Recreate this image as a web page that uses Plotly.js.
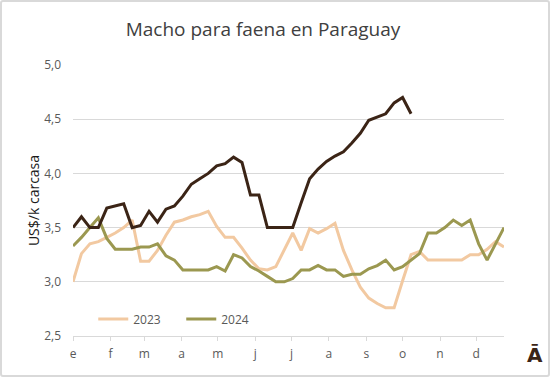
<!DOCTYPE html>
<html>
<head>
<meta charset="utf-8">
<script src="https://cdn.plot.ly/plotly-3.0.1.min.js"></script>
<style>
  html, body { margin: 0; padding: 0; background: #fff; }
  #wrap { position: relative; width: 550px; height: 377px; }
  #chart { width: 550px; height: 377px; }
  #frame { position: absolute; left: 0; top: 0; width: 546px; height: 373px;
           border: 2px solid #d9d9d9; border-radius: 3px; pointer-events: none; }
</style>
</head>
<body>
<div id="wrap"><div id="chart"></div><div id="frame"></div></div>
<script>
// Weekly series (week 1 = first week of January)
const monthLabels = ["e", "f", "m", "a", "m", "j", "j", "a", "s", "o", "n", "d"];

const serie2025 = [3.50, 3.60, 3.50, 3.50, 3.68, 3.70, 3.72, 3.50, 3.52, 3.65,
                   3.55, 3.67, 3.70, 3.79, 3.90, 3.95, 4.00, 4.07, 4.09, 4.15,
                   4.10, 3.80, 3.80, 3.50, 3.50, 3.50, 3.50, 3.73, 3.95, 4.04,
                   4.11, 4.16, 4.20, 4.28, 4.37, 4.49, 4.52, 4.55, 4.65, 4.70,
                   4.55];

const serie2023 = [3.00, 3.26, 3.35, 3.37, 3.41, 3.45, 3.50, 3.57, 3.19, 3.19,
                   3.29, 3.43, 3.55, 3.57, 3.60, 3.62, 3.65, 3.51, 3.41, 3.41,
                   3.31, 3.20, 3.12, 3.11, 3.14, 3.29, 3.45, 3.29, 3.49, 3.45,
                   3.49, 3.54, 3.29, 3.11, 2.95, 2.85, 2.80, 2.76, 2.76, 3.01,
                   3.25, 3.28, 3.20, 3.20, 3.20, 3.20, 3.20, 3.25, 3.25, 3.30,
                   3.37, 3.32];

const serie2024 = [3.33, 3.41, 3.50, 3.59, 3.40, 3.30, 3.30, 3.30, 3.32, 3.32,
                   3.35, 3.24, 3.20, 3.11, 3.11, 3.11, 3.11, 3.14, 3.10, 3.25,
                   3.22, 3.14, 3.10, 3.05, 3.00, 3.00, 3.03, 3.11, 3.11, 3.15,
                   3.11, 3.11, 3.05, 3.07, 3.07, 3.12, 3.15, 3.20, 3.11, 3.14,
                   3.20, 3.26, 3.45, 3.45, 3.50, 3.57, 3.52, 3.57, 3.35, 3.20,
                   3.35, 3.50];

const yTicks = [2.5, 3.0, 3.5, 4.0, 4.5, 5.0];
const yTickText = ["2,5", "3,0", "3,5", "4,0", "4,5", "5,0"];

// x positions: weekly dates within a reference year
function weekDates(n) {
  const out = [];
  const start = Date.UTC(2023, 0, 1);
  for (let i = 0; i < n; i++) {
    const d = new Date(start + i * 7 * 86400000);
    out.push(d.toISOString().slice(0, 10));
  }
  return out;
}
const monthStarts = monthLabels.map((_, i) =>
  "2023-" + String(i + 1).padStart(2, "0") + "-01");

const COL25 = "#3b2416";
const COL23 = "#f2c9a1";
const COL24 = "#9b9850";

const traces = [
  { x: weekDates(serie2023.length), y: serie2023, name: "2023", type: "scatter", mode: "lines",
    line: { color: COL23, width: 3 } },
  { x: weekDates(serie2024.length), y: serie2024, name: "2024", type: "scatter", mode: "lines",
    line: { color: COL24, width: 3 } },
  { x: weekDates(serie2025.length), y: serie2025, name: "2025", type: "scatter", mode: "lines",
    line: { color: COL25, width: 3 }, showlegend: false }
];

const FONT = "Open Sans, Noto Sans, sans-serif";

const layout = {
  width: 550, height: 377,
  margin: { l: 73, r: 46, t: 65, b: 41 },
  paper_bgcolor: "#ffffff", plot_bgcolor: "#ffffff",
  title: { text: "Macho para faena en Paraguay", xref: "container", x: 263 / 550, xanchor: "center",
           y: 1 - 29 / 377, yanchor: "middle",
           font: { family: FONT, size: 19, color: "#404040" } },
  showlegend: true,
  legend: { orientation: "h", x: 0.047, xanchor: "left", y: 0.063, yanchor: "middle",
            bgcolor: "rgba(0,0,0,0)", font: { family: FONT, size: 12, color: "#595959" },
            traceorder: "normal", entrywidth: 43 },
  xaxis: {
    type: "date",
    range: ["2023-01-01", weekDates(52)[51]],
    tickvals: monthStarts, ticktext: monthLabels,
    ticks: "outside", ticklen: 4, tickcolor: "#d9d9d9",
    ticklabelstandoff: 3,
    showline: true, linecolor: "#d9d9d9", linewidth: 1,
    showgrid: false, zeroline: false,
    tickfont: { family: FONT, size: 12, color: "#595959" }
  },
  yaxis: {
    range: [2.5, 5.0],
    tickvals: yTicks, ticktext: yTickText,
    showgrid: true, gridcolor: "#d9d9d9", gridwidth: 1,
    zeroline: false, showline: false, ticks: "",
    ticklabelstandoff: 11,
    tickfont: { family: FONT, size: 12, color: "#595959" },
    title: { text: "US$/k carcasa", standoff: 1,
             font: { family: FONT, size: 14, color: "#1a1a1a" } }
  },
  annotations: [
    { text: "<b>Ā</b>", xref: "paper", yref: "paper", x: 1 + 31 / 431, y: -19 / 271,
      xanchor: "center", yanchor: "middle", showarrow: false,
      font: { family: "DejaVu Sans, sans-serif", size: 20, color: COL25 } }
  ]
};

Plotly.newPlot("chart", traces, layout, { displayModeBar: false, staticPlot: true });
</script>
</body>
</html>
